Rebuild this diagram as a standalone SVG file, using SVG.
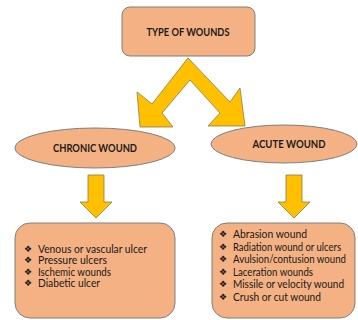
<svg xmlns="http://www.w3.org/2000/svg" width="358" height="320" viewBox="0 0 358 320">
<style>
.node{fill:#F4B183;stroke:#7F7F7F;stroke-width:1}
.arrow{fill:#FFC000;stroke:#8C7A50;stroke-width:0.8}
.title{font-family:Lato,"Liberation Sans",sans-serif;font-weight:bold;font-size:12px;fill:#1a1a1a;text-anchor:middle}
.item{font-family:Lato,"Liberation Sans",sans-serif;font-size:10.8px;fill:#1a1a1a}
.bul{font-family:"DejaVu Sans",sans-serif;font-size:9px;fill:#1a1a1a}
</style>
<rect width="358" height="320" fill="#ffffff"/>
<g id="connectors">
<polygon class="arrow" points="188,58 230,102 240,88 245,126 208,126 220,113 190,80 162,113 173,127 140,127 137,92 152,104"/>
<polygon class="arrow" points="88,175 104,175 104,202 112,202 96,218 80,202 88,202"/>
<polygon class="arrow" points="286,175 302,175 302,202 310,202 294,218 278,202 286,202"/>
</g>
<g id="type-of-wounds">
<rect class="node" x="122" y="7" width="133" height="49" rx="8"/>
<text class="title" x="188" y="36" textLength="83" lengthAdjust="spacingAndGlyphs">TYPE OF WOUNDS</text>
</g>
<g id="chronic-wound">
<ellipse class="node" cx="95" cy="148" rx="80" ry="20"/>
<text class="title" x="95" y="152" textLength="84" lengthAdjust="spacingAndGlyphs">CHRONIC WOUND</text>
</g>
<g id="acute-wound">
<ellipse class="node" cx="284" cy="144" rx="73" ry="19"/>
<text class="title" x="289" y="148" textLength="73" lengthAdjust="spacingAndGlyphs">ACUTE WOUND</text>
</g>
<g id="chronic-list">
<rect class="node" x="15" y="223" width="160" height="95" rx="15"/>
<text class="bul" x="24" y="251.5">❖</text><text class="item" x="38" y="252.5" textLength="109" lengthAdjust="spacingAndGlyphs">Venous or vascular ulcer</text>
<text class="bul" x="24" y="263">❖</text><text class="item" x="38" y="264" textLength="69" lengthAdjust="spacingAndGlyphs">Pressure ulcers</text>
<text class="bul" x="24" y="274.5">❖</text><text class="item" x="38" y="275.5" textLength="73" lengthAdjust="spacingAndGlyphs">Ischemic wounds</text>
<text class="bul" x="24" y="286">❖</text><text class="item" x="38" y="287" textLength="62" lengthAdjust="spacingAndGlyphs">Diabetic ulcer</text>
</g>
<g id="acute-list">
<rect class="node" x="212" y="223" width="143" height="95" rx="15"/>
<text class="bul" x="219" y="237">❖</text><text class="item" x="233" y="238" textLength="74" lengthAdjust="spacingAndGlyphs">Abrasion wound</text>
<text class="bul" x="219" y="249.5">❖</text><text class="item" x="233" y="250.5" textLength="108" lengthAdjust="spacingAndGlyphs">Radiation wound or ulcers</text>
<text class="bul" x="219" y="262">❖</text><text class="item" x="233" y="263" textLength="113" lengthAdjust="spacingAndGlyphs">Avulsion/contusion wound</text>
<text class="bul" x="219" y="274.5">❖</text><text class="item" x="233" y="275.5" textLength="80" lengthAdjust="spacingAndGlyphs">Laceration wounds</text>
<text class="bul" x="219" y="287">❖</text><text class="item" x="233" y="288" textLength="111" lengthAdjust="spacingAndGlyphs">Missile or velocity wound</text>
<text class="bul" x="219" y="299.5">❖</text><text class="item" x="233" y="300.5" textLength="88" lengthAdjust="spacingAndGlyphs">Crush or cut wound</text>
</g>
</svg>
